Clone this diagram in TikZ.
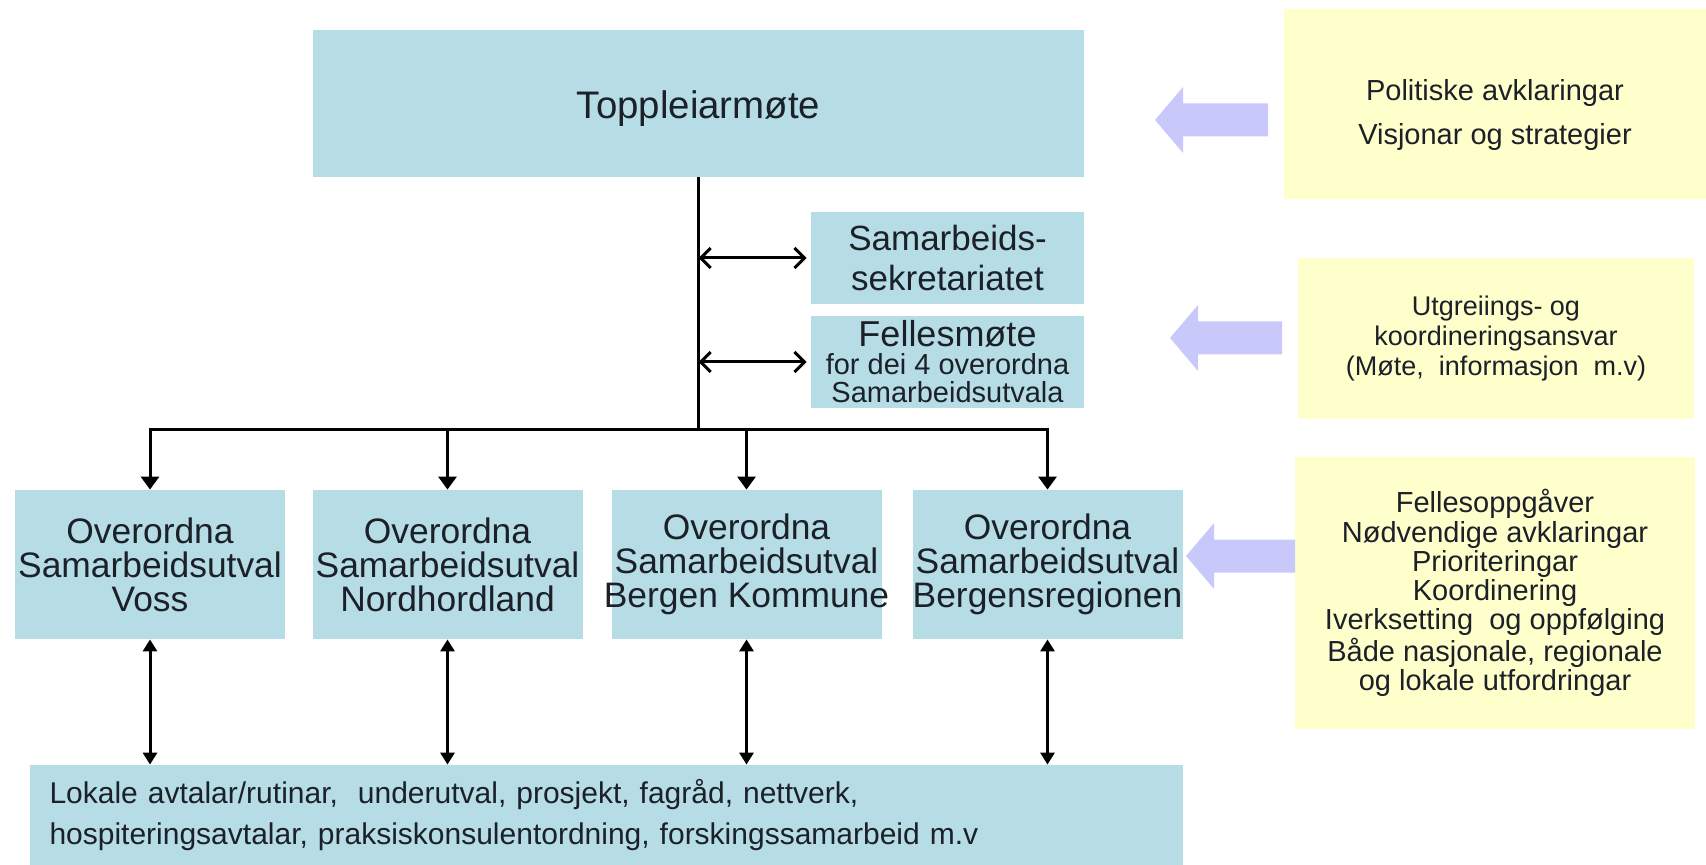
\documentclass[tikz,border=0pt]{standalone}
\usepackage{fontspec}
\setmainfont{Liberation Sans}
\usetikzlibrary{arrows.meta}

\definecolor{boxblue}{RGB}{182,221,229}
\definecolor{noteyellow}{RGB}{255,255,204}
\definecolor{arrowlilac}{RGB}{200,200,250}
\definecolor{inkgray}{RGB}{28,32,40}

\begin{document}
\begin{tikzpicture}[x=0.5pt, y=-0.5pt, inner sep=0pt, text=inkgray]
    \tikzset{
        unit/.style={fill=boxblue, align=center, minimum width=135pt, minimum height=74.5pt, font=\fontsize{17.7}{17}\selectfont},
        note/.style={fill=noteyellow, align=center},
        link/.style={line width=1.5pt, draw=black, line join=miter}
    } %% styles
    \useasboundingbox (0,0) rectangle (1706,865);

    %% top level and secretariat
    \node[fill=boxblue, minimum width=385.5pt, minimum height=73.5pt, text height=19.4pt, text depth=4pt, font=\fontsize{19.2}{20}\selectfont] (top) at (698.5,103.5) {Toppleiarmøte};
    \node[fill=boxblue, align=center, minimum width=136.5pt, minimum height=46pt, font=\fontsize{17.5}{20}\selectfont] (sekr) at (947.5,258) {Samarbeids-\\sekretariatet};
    \node[fill=boxblue, align=center, minimum width=136.5pt, minimum height=46pt, font=\fontsize{14.5}{14}\selectfont] (felles) at (947.5,362) {{\fontsize{18}{18}\selectfont Fellesmøte}\\for dei 4 overordna\\Samarbeidsutvala};

    %% the four committees
    \foreach \name/\x/\place in {voss/150/Voss, nordh/447.5/Nordhordland, bergk/746.5/Bergen Kommune, bergr/1047.5/Bergensregionen}
        \node[unit] (\name) at (\x,564.5) {Overordna\\Samarbeidsutval\\\makebox[135pt]{\place}};

    \node[fill=boxblue, minimum width=576.5pt, minimum height=50pt, text width=557pt, align=left, font=\fontsize{15}{20.5}\selectfont] (lokal) at (606.5,815)
        {Lokale avtalar/rutinar,\ \ underutval, prosjekt, fagråd, nettverk,\\hospiteringsavtalar, praksiskonsulentordning, forskingssamarbeid m.v};

    %% notes on the right
    \fill[noteyellow] (1284,9) rectangle (1706,199);
    \node[align=center, font=\fontsize{14.5}{21.8}\selectfont] (politisk) at (1495,115) {Politiske avklaringar\\Visjonar og strategier};
    \node[note, minimum width=198pt, minimum height=80.5pt, font=\fontsize{13.5}{15}\selectfont] (utgreiing) at (1496,338.5) {Utgreiings- og\\koordineringsansvar\\(Møte,\ \ informasjon\ \ m.v)};
    \node[note, minimum width=200pt, minimum height=136pt, font=\fontsize{14.5}{14.6}\selectfont] (fellesopp) at (1495,593) {Fellesoppgåver\\Nødvendige avklaringar\\Prioriteringar\\Koordinering\\Iverksetting\ \ og oppfølging\\Både nasjonale, regionale\\og lokale utfordringar};

    %% block arrows
    \foreach \tip/\ty/\tail in {1155/120/1268, 1170/338/1282, 1186/556/1295}
        \fill[arrowlilac] (\tip,\ty) -- ({\tip+28},{\ty-33}) -- ({\tip+28},{\ty-16.5}) -- ({\tail},{\ty-16.5})
            -- ({\tail},{\ty+16.5}) -- ({\tip+28},{\ty+16.5}) -- ({\tip+28},{\ty+33}) -- cycle;

    %% connectors
    \coordinate (hub) at (698.5,430);
    \draw[link] (top.south) -- (hub);
    \foreach \name in {voss,nordh,bergk,bergr} {
        \draw[link, -{Triangle[width=9pt,length=6.5pt]}] (hub) -| (\name.north);
        \draw[link, {Triangle[width=7pt,length=6pt]}-{Triangle[width=7pt,length=6pt]}] (\name.south) -- (\name.south |- lokal.north);
    }
    \foreach \name in {sekr,felles}
        \draw[link, {Straight Barb[length=5pt,width=10pt]}-{Straight Barb[length=5pt,width=10pt]}] (top.south |- \name.west) -- ([xshift=-2pt]\name.west);
\end{tikzpicture}
\end{document}
